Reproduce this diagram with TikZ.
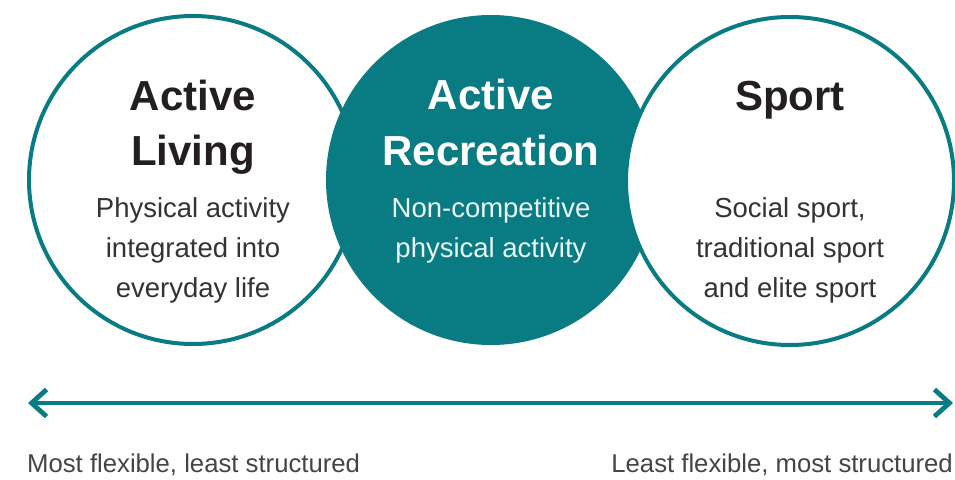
\documentclass[tikz,border=0pt]{standalone}
\usepackage{fontspec}
\setmainfont{Liberation Sans}
\usetikzlibrary{arrows.meta}
\definecolor{teal1}{HTML}{087B83}
\definecolor{darktext}{HTML}{231F20}
\definecolor{bodytext}{HTML}{333333}
\definecolor{labeltext}{HTML}{444444}
\tikzset{
  ring/.style={circle, draw=teal1, line width=4pt, minimum size=328pt, inner sep=0pt, fill=white},
  filledring/.style={circle, fill=teal1, minimum size=330pt, inner sep=0pt},
  titletext/.style={font=\fontsize{42}{55}\selectfont\bfseries, align=center, anchor=base},
  bodytxt/.style={font=\fontsize{27.5}{40}\selectfont, align=center, anchor=base},
  labeltxt/.style={font=\fontsize{25.7}{30}\selectfont, text=labeltext, anchor=base, inner sep=0pt},
  scalearrow/.style={draw=teal1, line width=4.5pt, {Straight Barb[length=15pt,width=27pt,line width=4.8pt]}-{Straight Barb[length=15pt,width=27pt,line width=4.8pt]}}
}
\begin{document}
\begin{tikzpicture}[x=1pt,y=-1pt]
\useasboundingbox (0,0) rectangle (955,479);
% circles
\node[ring] (living) at (193,180) {};
\node[filledring] (recreation) at (491,180) {};
\node[ring] (sport) at (790,181) {};
% titles
\node[titletext, text=darktext] (t1a) at (193,110) {Active};
\node[titletext, text=darktext] (t1b) at (193,165) {Living};
\node[titletext, text=white] (t2a) at (491,109) {Active};
\node[titletext, text=white] (t2b) at (491,165) {Recreation};
\node[titletext, text=darktext] (t3a) at (790,110) {Sport};
% bodies
\node[bodytxt, text=bodytext] (b1a) at (193,217) {Physical activity};
\node[bodytxt, text=bodytext] (b1b) at (193,257) {integrated into};
\node[bodytxt, text=bodytext] (b1c) at (193,297) {everyday life};
\node[bodytxt, text=white!92!teal1] (b2a) at (491,217) {Non-competitive};
\node[bodytxt, text=white!92!teal1] (b2b) at (491,257) {physical activity};
\node[bodytxt, text=bodytext] (b3a) at (790,217) {Social sport,};
\node[bodytxt, text=bodytext] (b3b) at (790,257) {traditional sport};
\node[bodytxt, text=bodytext] (b3c) at (790,297) {and elite sport};
% scale arrow
\coordinate (L) at (28,403);
\coordinate (R) at (953,403);
\draw[scalearrow] (L) -- (R);
% labels
\node[labeltxt, anchor=base west] (ll) at (27,472) {Most flexible, least structured};
\node[labeltxt, anchor=base east] (rl) at (953,472) {Least flexible, most structured};
\end{tikzpicture}
\end{document}
